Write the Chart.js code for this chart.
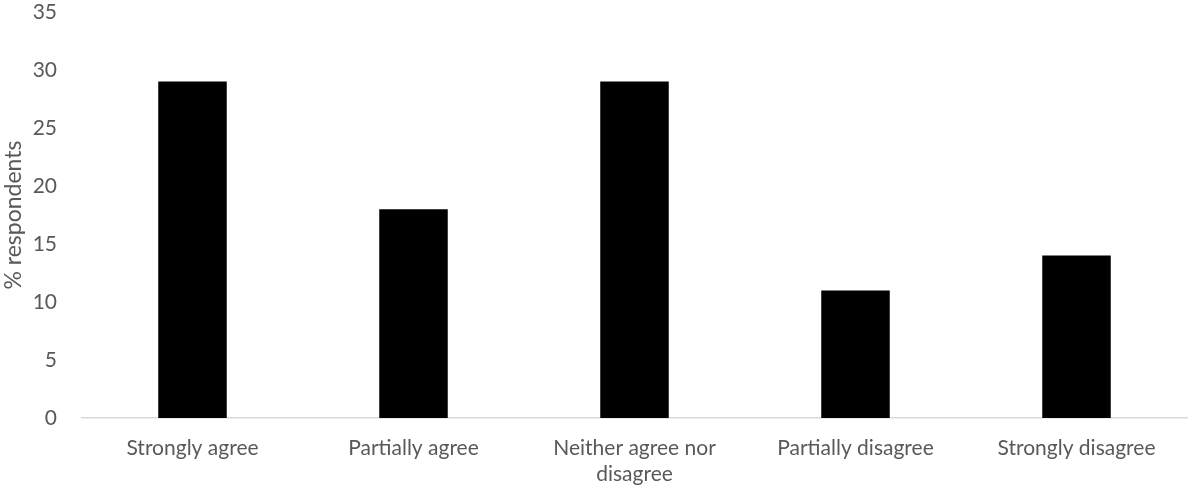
<!DOCTYPE html>
<html>
<head>
<meta charset="utf-8">
<script src="https://cdn.jsdelivr.net/npm/chart.js@4/dist/chart.umd.min.js"></script>
<style>
  html, body { margin: 0; padding: 0; background: #fff; }
  #wrap { width: 1193px; height: 491px; }
</style>
</head>
<body>
<div id="wrap"><canvas id="canvas-1"></canvas></div>
<script>
const categories = [
  "Strongly agree",
  "Partially agree",
  ["Neither agree nor", "disagree"],
  "Partially disagree",
  "Strongly disagree",
];
const respondents = [29, 18, 29, 11, 14];
const yTicks = { min: 0, max: 35, step: 5 };

const barChart = new Chart(document.getElementById("canvas-1"), {
  type: "bar",
  data: {
    labels: categories,
    datasets: [
      {
        label: "% respondents",
        data: respondents,
        backgroundColor: "#000000",
        borderWidth: 0,
        barPercentage: 0.31,
        categoryPercentage: 1,
      },
    ],
  },
  options: {
    responsive: true,
    maintainAspectRatio: false,
    animation: false,
    layout: { padding: { top: 12, right: 6, left: 0, bottom: 0 } },
    plugins: { legend: { display: false }, tooltip: { enabled: false } },
    scales: {
      x: {
        grid: { display: false },
        border: { display: true, color: "#d9d9d9", width: 1.5 },
        ticks: {
          color: "#595959",
          font: { family: "Lato", size: 21, lineHeight: 1.2 },
          maxRotation: 0,
          autoSkip: false,
          padding: 10,
        },
        afterFit: (axis) => { axis.height = 73; },
      },
      y: {
        min: yTicks.min,
        max: yTicks.max,
        grid: { display: false },
        border: { display: false },
        ticks: {
          stepSize: yTicks.step,
          color: "#595959",
          font: { family: "Lato", size: 21 },
          padding: 17,
        },
        title: {
          display: true,
          text: "% respondents",
          color: "#595959",
          font: { family: "Lato", size: 23 },
          padding: 0,
        },
        afterFit: (axis) => {
          axis.width = 82;
          axis.paddingTop = 0;
          axis.paddingBottom = 0;
        },
      },
    },
  },
});
</script>
</body>
</html>
